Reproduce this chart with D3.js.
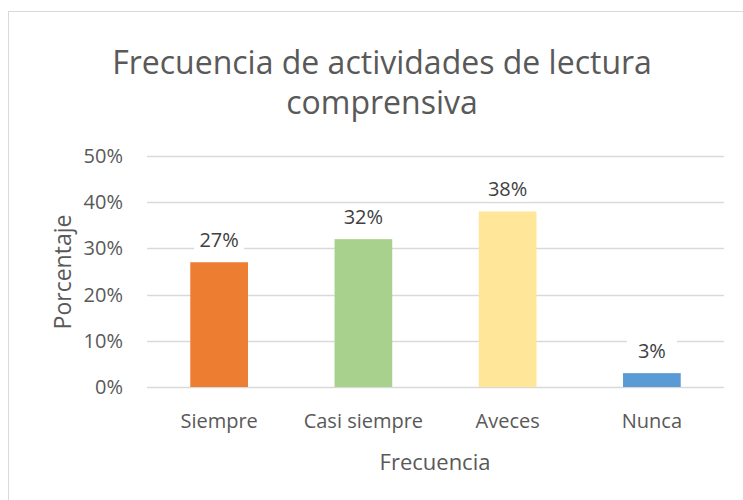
<!DOCTYPE html>
<html>
<head>
<meta charset="utf-8">
<script src="https://cdn.jsdelivr.net/npm/d3@7"></script>
<style>
  body { margin: 0; background: #fff; }
  text { font-family: 'Open Sans', Lato, sans-serif; fill: #595959; }
</style>
</head>
<body>
<div id="chart"></div>
<script>
var categories = ['Siempre', 'Casi siempre', 'Aveces', 'Nunca']
var values = [0.27, 0.32, 0.38, 0.03]
var colors = ['#ED7D31', '#A9D18E', '#FFE699', '#5B9BD5']
var yTicks = [0, 0.1, 0.2, 0.3, 0.4, 0.5]

var size = ({width: 743, height: 500})
var margin = ({top: 156, right: 19, bottom: 113, left: 147})

var svg = d3.select('#chart')
    .append('svg')
    .attr('width', size.width)
    .attr('height', size.height)

// chart frame
svg.append('rect')
    .attr('x', 8.5).attr('y', 11.5)
    .attr('width', 760).attr('height', 520)
    .attr('fill', 'none')
    .attr('stroke', '#d9d9d9')

var x = d3.scaleBand()
    .domain(categories)
    .range([margin.left, size.width - margin.right])
    .paddingInner(0.6)
    .paddingOuter(0.3)

var y = d3.scaleLinear()
    .domain([0, 0.5])
    .range([size.height - margin.bottom, margin.top])

// gridlines
svg.append('g')
    .selectAll('line')
    .data(yTicks)
    .join('line')
        .attr('x1', margin.left)
        .attr('x2', size.width - margin.right)
        .attr('y1', d => Math.round(y(d)) + 0.5)
        .attr('y2', d => Math.round(y(d)) + 0.5)
        .attr('stroke', '#d9d9d9')
        .attr('stroke-width', 1.3)

// y tick labels
svg.append('g')
    .selectAll('text')
    .data(yTicks)
    .join('text')
        .attr('x', 123)
        .attr('y', d => y(d))
        .attr('dy', '0.35em')
        .attr('text-anchor', 'end')
        .style('font-size', '20px')
        .text(d3.format('.0%'))

// bars
svg.append('g')
    .selectAll('rect')
    .data(values)
    .join('rect')
        .attr('x', (d, i) => x(categories[i]))
        .attr('y', d => y(d))
        .attr('width', x.bandwidth())
        .attr('height', d => y(0) - y(d))
        .attr('fill', (d, i) => colors[i])

// data labels with white backing
var labels = svg.append('g')
    .selectAll('g')
    .data(values)
    .join('g')
        .attr('transform', (d, i) => `translate(${x(categories[i]) + x.bandwidth() / 2}, ${y(d) - 22})`)

labels.append('rect')
    .attr('x', -25).attr('y', -12)
    .attr('width', 50).attr('height', 24)
    .attr('fill', '#fff')

labels.append('text')
    .attr('text-anchor', 'middle')
    .attr('dy', '0.35em')
    .style('font-size', '20px')
    .style('fill', '#404040')
    .text(d3.format('.0%'))

// category labels
svg.append('g')
    .selectAll('text')
    .data(categories)
    .join('text')
        .attr('x', d => x(d) + x.bandwidth() / 2)
        .attr('y', 421)
        .attr('dy', '0.35em')
        .attr('text-anchor', 'middle')
        .style('font-size', '20px')
        .text(d => d)

// axis titles
svg.append('text')
    .attr('x', 435).attr('y', 462)
    .attr('dy', '0.35em')
    .attr('text-anchor', 'middle')
    .style('font-size', '22px')
    .text('Frecuencia')

svg.append('text')
    .attr('transform', 'translate(63, 272) rotate(-90)')
    .attr('dy', '0.35em')
    .attr('text-anchor', 'middle')
    .style('font-size', '23px')
    .text('Porcentaje')

// title
svg.append('text')
    .attr('x', 382).attr('y', 63)
    .attr('dy', '0.35em')
    .attr('text-anchor', 'middle')
    .style('font-size', '32px')
    .text('Frecuencia de actividades de lectura')

svg.append('text')
    .attr('x', 382).attr('y', 103)
    .attr('dy', '0.35em')
    .attr('text-anchor', 'middle')
    .style('font-size', '32px')
    .text('comprensiva')
</script>
</body>
</html>
